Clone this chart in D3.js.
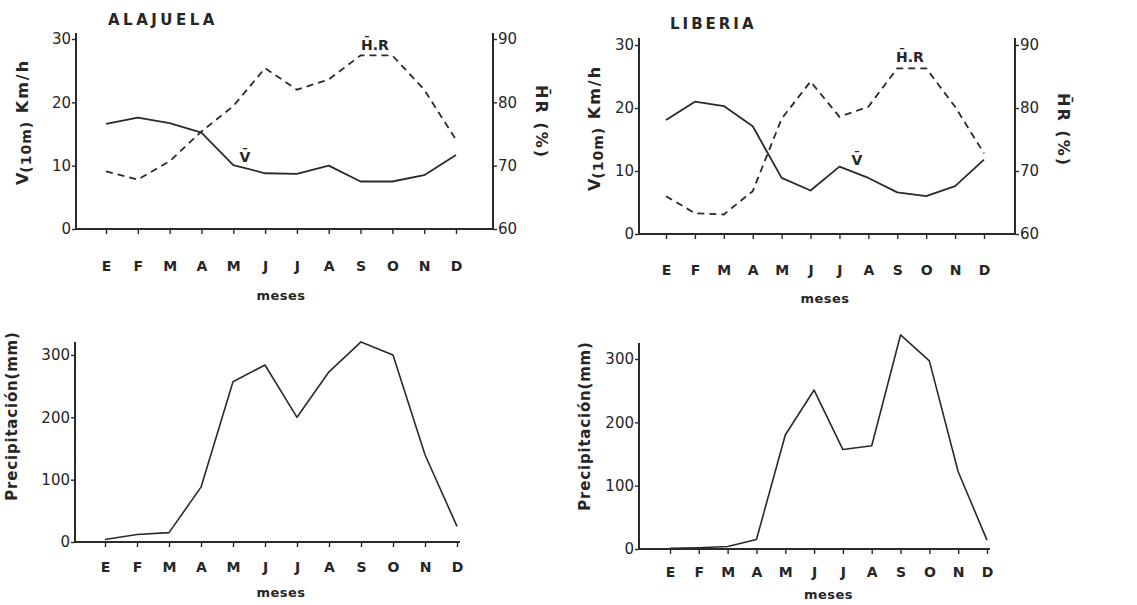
<!DOCTYPE html>
<html>
<head>
<meta charset="utf-8">
<script src="https://cdn.jsdelivr.net/npm/d3@7"></script>
<style>
  html, body { margin: 0; padding: 0; background: #fff; }
  svg { display: block; }
  text { fill: #262626; font-family: "DejaVu Sans", "Liberation Sans", sans-serif; }
  .tick text { font-size: 15px; }
  .month text { font-weight: bold; font-size: 14px; }
</style>
</head>
<body>
<svg id="chart" width="1137" height="605"></svg>
<script>
// Month initials (Spanish) used on every x axis
const months = ["E", "F", "M", "A", "M", "J", "J", "A", "S", "O", "N", "D"];

// Mean wind speed at 10 m (km/h)
const windAlajuela = [16.6, 17.6, 16.7, 15.2, 10.1, 8.8, 8.7, 10.0, 7.5, 7.5, 8.5, 11.7];
const windLiberia  = [18.1, 21.0, 20.3, 17.1, 8.9, 6.9, 10.7, 8.9, 6.6, 6.0, 7.6, 11.8];

// Mean relative humidity (%)
const humAlajuela = [69.1, 67.8, 70.7, 75.4, 79.4, 85.4, 82.0, 83.6, 87.4, 87.4, 82.0, 74.1];
const humLiberia  = [66.0, 63.3, 63.1, 66.8, 78.3, 84.2, 78.6, 80.2, 86.3, 86.3, 80.2, 72.8];

// Monthly precipitation (mm)
const rainAlajuela = [4, 12, 15, 88, 257, 284, 200, 273, 321, 300, 140, 25];
const rainLiberia  = [1, 2, 4, 15, 180, 251, 157, 163, 338, 297, 122, 14];

// Tick values
const windTicks = [0, 10, 20, 30];
const humTicks = [60, 70, 80, 90];
const rainTicks = [0, 100, 200, 300];

const svg = d3.select("#chart");
const ink = "#2a2a2a";

function monthAxis(g, x, y0, xStart, xEnd, pad, labelY) {
  const ax = g.append("g").attr("class", "month")
    .attr("transform", `translate(0,${y0})`)
    .call(d3.axisBottom(x).tickValues(d3.range(12)).tickFormat(i => months[i])
      .tickSize(5).tickPadding(pad));
  ax.select(".domain").remove();
  ax.selectAll("line").attr("stroke", ink).attr("stroke-width", 1.4);
  g.append("line").attr("x1", xStart).attr("x2", xEnd).attr("y1", y0).attr("y2", y0)
    .attr("stroke", ink).attr("stroke-width", 2);
  g.append("text").attr("x", (x(0) + x(11)) / 2).attr("y", labelY)
    .attr("text-anchor", "middle").style("font-size", "13px").style("font-weight", "bold")
    .style("letter-spacing", "0.5px").text("meses");
}

function vertAxis(g, scale, xPos, ticks, side, top) {
  const gen = side === "left" ? d3.axisLeft(scale) : d3.axisRight(scale);
  const ax = g.append("g").attr("transform", `translate(${xPos},0)`)
    .call(gen.tickValues(ticks).tickSize(4).tickPadding(1).tickSizeOuter(0));
  ax.select(".domain").remove();
  ax.selectAll("line").attr("stroke", ink).attr("stroke-width", 1.4);
  const r = scale.range();
  g.append("line").attr("x1", xPos).attr("x2", xPos).attr("y1", r[0]).attr("y2", top)
    .attr("stroke", ink).attr("stroke-width", 2);
}

function windPanel(cfg) {
  const g = svg.append("g");
  const x = d3.scaleLinear().domain([0, 11]).range(cfg.months);
  const yV = d3.scaleLinear().domain([0, 30]).range(cfg.yr);
  const yH = d3.scaleLinear().domain([60, 90]).range(cfg.yr);

  vertAxis(g, yV, cfg.left, windTicks, "left", cfg.top);
  vertAxis(g, yH, cfg.right, humTicks, "right", cfg.top);
  monthAxis(g, x, cfg.yr[0], cfg.left, cfg.right, cfg.pad, cfg.mesesY);

  const line = (ys) => d3.line().x((d, i) => x(i)).y(d => ys(d));
  g.append("path").datum(cfg.wind).attr("d", line(yV))
    .attr("fill", "none").attr("stroke", ink).attr("stroke-width", 1.8)
    .attr("stroke-linejoin", "round");
  g.append("path").datum(cfg.hum).attr("d", line(yH))
    .attr("fill", "none").attr("stroke", ink).attr("stroke-width", 1.8)
    .attr("stroke-dasharray", "7,5");

  // station name
  g.append("text").attr("x", cfg.titleX).attr("y", cfg.titleY)
    .style("font-size", "15px").style("font-weight", "bold").style("letter-spacing", cfg.titleSpacing)
    .text(cfg.title);

  // left axis title: V(10m) Km/h
  const lt = g.append("text")
    .attr("transform", `translate(${cfg.vTitle[0]},${cfg.vTitle[1]}) rotate(-90)`)
    .attr("text-anchor", "middle").style("font-size", "16px").style("font-weight", "bold");
  lt.append("tspan").text("V");
  lt.append("tspan").attr("dy", 3).style("font-size", "14px").style("letter-spacing", "1px").text("(10m)");
  lt.append("tspan").attr("dy", -3).style("letter-spacing", "2px").text("  Km/h");

  // right axis title: HR (%)
  g.append("text")
    .attr("transform", `translate(${cfg.hTitle[0]},${cfg.hTitle[1]}) rotate(90)`)
    .attr("text-anchor", "middle").style("font-size", "16px").style("font-weight", "bold")
    .style("letter-spacing", "2px").text("H\u0304R (%)");

  // series labels
  g.append("text").attr("x", cfg.hrLabel[0]).attr("y", cfg.hrLabel[1])
    .attr("text-anchor", "middle").style("font-size", "14px").style("font-weight", "bold")
    .text("H\u0304.R");
  g.append("text").attr("x", cfg.vLabel[0]).attr("y", cfg.vLabel[1])
    .attr("text-anchor", "middle").style("font-size", "14px").style("font-weight", "bold")
    .text("V\u0304");
}

function rainPanel(cfg) {
  const g = svg.append("g");
  const x = d3.scaleLinear().domain([0, 11]).range(cfg.months);
  const y = d3.scaleLinear().domain([0, 300]).range(cfg.yr);

  vertAxis(g, y, cfg.left, rainTicks, "left", cfg.top);
  monthAxis(g, x, cfg.yr[0], cfg.left, cfg.axisEnd, cfg.pad, cfg.mesesY);

  g.append("path").datum(cfg.rain)
    .attr("d", d3.line().x((d, i) => x(i)).y(d => y(d)))
    .attr("fill", "none").attr("stroke", ink).attr("stroke-width", 1.6)
    .attr("stroke-linejoin", "round");

  g.append("text")
    .attr("transform", `translate(${cfg.pTitle[0]},${cfg.pTitle[1]}) rotate(-90)`)
    .attr("text-anchor", "middle").style("font-size", "15px").style("font-weight", "bold")
    .style("letter-spacing", "0.8px")
    .text("Precipitación(mm)");
}

windPanel({
  title: "ALAJUELA", titleX: 108, titleY: 25, titleSpacing: "3.5px",
  months: [106, 456], yr: [229, 39], left: 76, right: 493, top: 33,
  pad: 27, mesesY: 300,
  wind: windAlajuela, hum: humAlajuela,
  vTitle: [28, 122], hTitle: [536, 122],
  hrLabel: [375, 50], vLabel: [245, 162]
});

windPanel({
  title: "LIBERIA", titleX: 670, titleY: 29, titleSpacing: "3px",
  months: [666, 984], yr: [234, 45], left: 639, right: 1015, top: 38,
  pad: 26, mesesY: 303,
  wind: windLiberia, hum: humLiberia,
  vTitle: [600, 128], hTitle: [1058, 130],
  hrLabel: [910, 62], vLabel: [857, 165]
});

rainPanel({
  months: [105, 457], yr: [542, 355], left: 75, axisEnd: 460, top: 342,
  pad: 15, mesesY: 597, rain: rainAlajuela, pTitle: [17, 416]
});

rainPanel({
  months: [670, 987], yr: [549, 359], left: 639, axisEnd: 990, top: 343,
  pad: 13, mesesY: 599, rain: rainLiberia, pTitle: [590, 426]
});
</script>
</body>
</html>
